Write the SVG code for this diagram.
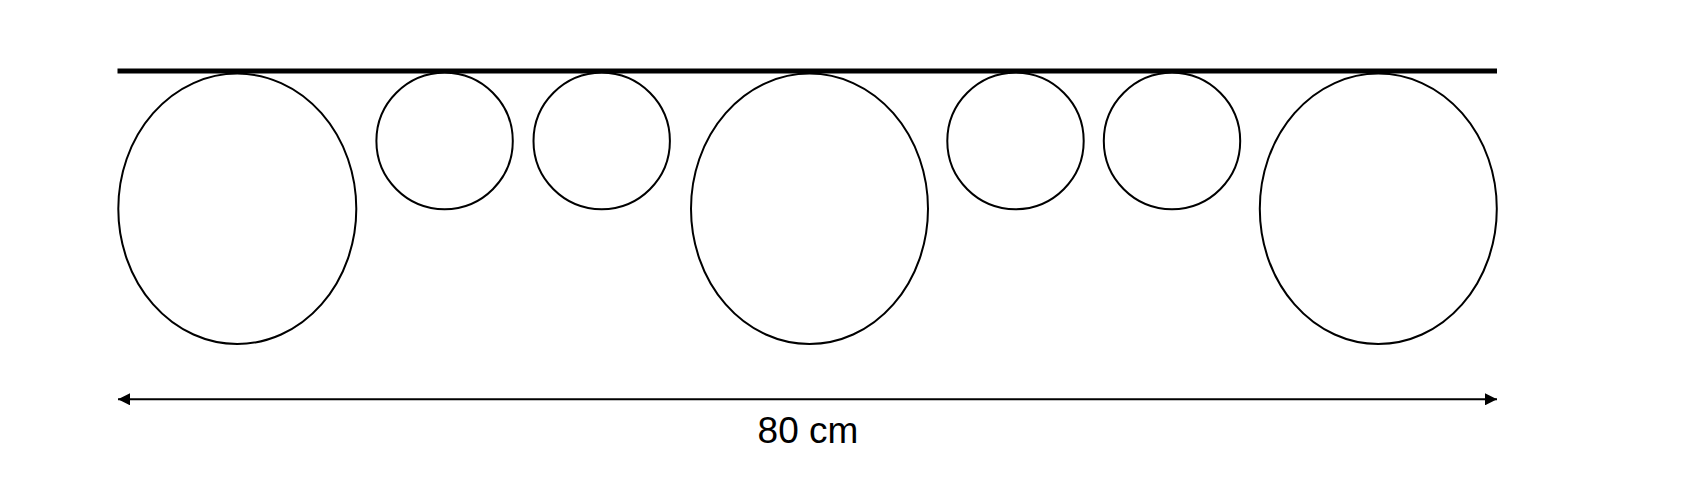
<svg xmlns="http://www.w3.org/2000/svg" width="1694" height="486" viewBox="0 0 1694 486">
<defs>
<style>
.ring{fill:#fff;stroke:#000;stroke-width:2}
.rail{stroke:#000;stroke-width:5;fill:none}
.dim{stroke:#000;stroke-width:2;fill:none}
.lbl{font-family:"Liberation Sans",Arial,sans-serif;font-size:37px;fill:#000;text-anchor:middle}
</style>
<marker id="ah" viewBox="0 0 12 12" refX="12" refY="6" markerWidth="12" markerHeight="12" markerUnits="userSpaceOnUse" orient="auto-start-reverse">
<path d="M0,0 L12,6 L0,12 Z" fill="#000"/>
</marker>
</defs>
<rect width="1694" height="486" fill="#fff"/>
<g id="connectors">
<line class="rail" x1="117.5" y1="71" x2="1497" y2="71"/>
<line class="dim" x1="118" y1="399.3" x2="1497" y2="399.3" marker-start="url(#ah)" marker-end="url(#ah)"/>
</g>
<g id="big1"><ellipse class="ring" cx="237.3" cy="208.8" rx="119" ry="135.2"/></g>
<g id="small1"><circle class="ring" cx="444.6" cy="141" r="68.2"/></g>
<g id="small2"><circle class="ring" cx="601.7" cy="141" r="68.2"/></g>
<g id="big2"><ellipse class="ring" cx="809.5" cy="208.8" rx="118.5" ry="135.2"/></g>
<g id="small3"><circle class="ring" cx="1015.5" cy="141" r="68.2"/></g>
<g id="small4"><circle class="ring" cx="1172" cy="141" r="68.2"/></g>
<g id="big3"><ellipse class="ring" cx="1378.3" cy="208.8" rx="118.5" ry="135.2"/></g>
<g id="label"><text class="lbl" x="808" y="442.7">80 cm</text></g>
</svg>
